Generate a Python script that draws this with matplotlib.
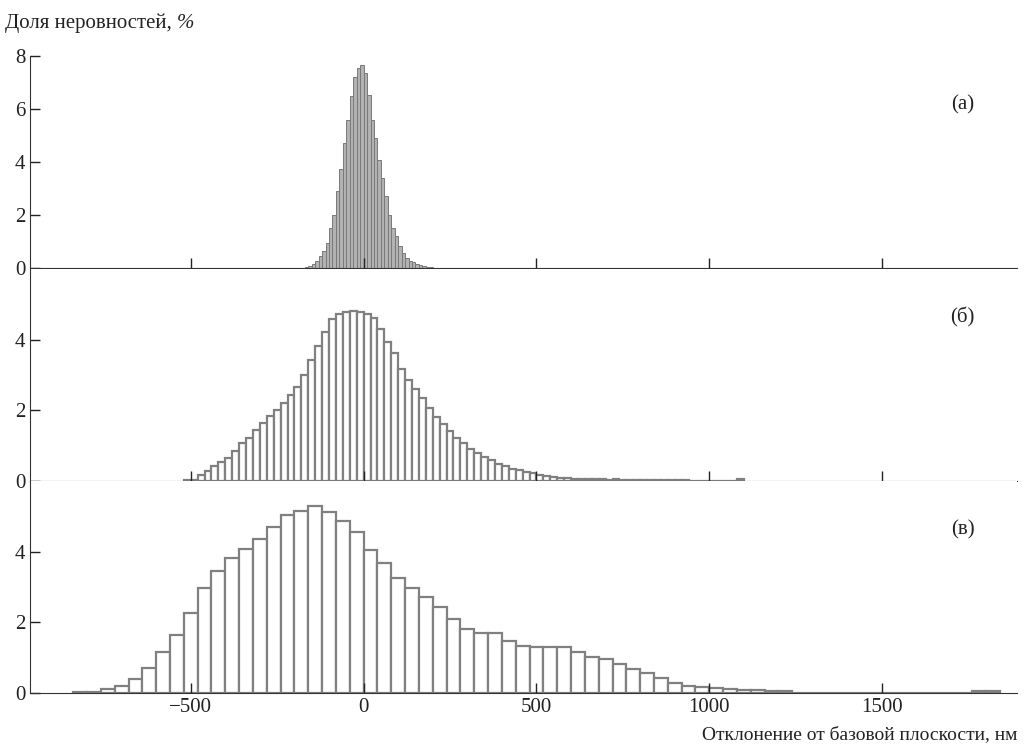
import matplotlib.pyplot as plt

plt.rcParams['font.family'] = ['Liberation Serif', 'DejaVu Serif']

# (а) bins of 10 nm starting at -170
top_start = -170
top_width = 10
top_vals = [0.03, 0.06, 0.15, 0.25, 0.44, 0.63, 0.94, 1.51, 2.01, 2.89,
            3.74, 4.72, 5.6, 6.5, 7.2, 7.55, 7.65, 7.35, 6.54, 5.6,
            4.9, 4.09, 3.4, 2.7, 2.0, 1.5, 1.2, 0.82, 0.57, 0.38,
            0.28, 0.22, 0.14, 0.12, 0.07, 0.05, 0.04]

# (б) bins of 20 nm starting at -520
mid_start = -520
mid_width = 20
mid_vals = [0.03, 0.04, 0.16, 0.27, 0.42, 0.54, 0.66, 0.84, 1.07, 1.23,
            1.44, 1.63, 1.85, 2.01, 2.20, 2.44, 2.65, 3.00, 3.43, 3.82,
            4.21, 4.59, 4.72, 4.79, 4.82, 4.79, 4.72, 4.61, 4.31, 3.93,
            3.62, 3.17, 2.86, 2.61, 2.34, 2.06, 1.82, 1.61, 1.42, 1.23,
            1.07, 0.91, 0.78, 0.69, 0.60, 0.49, 0.42, 0.35, 0.30, 0.25,
            0.22, 0.18, 0.13, 0.11, 0.09, 0.08, 0.07, 0.06, 0.06, 0.05,
            0.05, 0.04, 0.05, 0.04, 0.04, 0.03, 0.04, 0.03, 0.03, 0.03,
            0.02, 0.02, 0.02, 0, 0, 0, 0, 0, 0, 0,
            0.06]

# (в) bins of 40 nm starting at -840
bot_start = -840
bot_width = 40
bot_vals = [0.03, 0.03, 0.10, 0.19, 0.41, 0.72, 1.16, 1.65, 2.27, 2.96,
            3.45, 3.82, 4.07, 4.35, 4.69, 5.05, 5.15, 5.30, 5.11, 4.87,
            4.56, 4.06, 3.69, 3.26, 2.98, 2.71, 2.42, 2.10, 1.81, 1.70,
            1.70, 1.47, 1.33, 1.30, 1.29, 1.29, 1.15, 1.03, 0.95, 0.81,
            0.67, 0.58, 0.42, 0.29, 0.19, 0.17, 0.14, 0.11, 0.08, 0.08,
            0.05, 0.05, 0, 0, 0, 0, 0, 0, 0, 0,
            0, 0, 0, 0, 0, 0.05, 0.05]

panel_labels = ['(а)', '(б)', '(в)']
x_ticks = [-500, 0, 500, 1000, 1500]

fig = plt.figure(figsize=(10.3, 7.5), dpi=100)
x0, w = 30 / 1030, 987 / 1030
h = 212 / 750
bottoms = [(750 - 268) / 750, (750 - 481) / 750, (750 - 693) / 750]

datasets = [(top_start, top_width, top_vals, 8, [0, 2, 4, 6, 8]),
            (mid_start, mid_width, mid_vals, 6, [0, 2, 4]),
            (bot_start, bot_width, bot_vals, 6, [0, 2, 4])]

for i, (start, width, vals, ytop, yt) in enumerate(datasets):
    ax = fig.add_axes([x0, bottoms[i], w, h])
    lefts = [start + width * k for k in range(len(vals))]
    if i == 0:
        ax.bar(lefts, vals, width=width, align='edge', facecolor='#b2b2b2',
               edgecolor='#7a7a7a', linewidth=0.7)
    else:
        ax.bar(lefts, vals, width=width, align='edge', facecolor='white',
               edgecolor='#808080', linewidth=1.6)
    ax.set_xlim(-965, 1890)
    ax.set_ylim(0, ytop)
    ax.set_yticks(yt)
    ax.set_xticks(x_ticks)
    ax.spines['top'].set_visible(False)
    ax.spines['right'].set_visible(False)
    ax.spines['left'].set_color('#333333')
    ax.spines['bottom'].set_color('#333333')
    ax.tick_params(direction='in', length=7, width=1, labelsize=15, colors='#222222')
    if i < 2:
        ax.tick_params(axis='x', labelbottom=False)
    ax.text(0.945, 0.77, panel_labels[i], transform=ax.transAxes,
            fontsize=15, ha='center', va='center', color='#222222')

# y label with italic percent sign
t = fig.text(5 / 1030, 1 - 23 / 750, 'Доля неровностей, ',
             fontsize=15, ha='left', va='center', color='#222222')
fig.add_artist(plt.Annotation('%', xy=(1, 0.5), xycoords=t, va='center', ha='left',
                              fontsize=15, style='italic', color='#222222'))
fig.text(1017 / 1030, 1 - 735 / 750, 'Отклонение от базовой плоскости, нм',
         fontsize=14, ha='right', va='center', color='#222222')

plt.savefig('out.png', dpi=100)
plt.close()
